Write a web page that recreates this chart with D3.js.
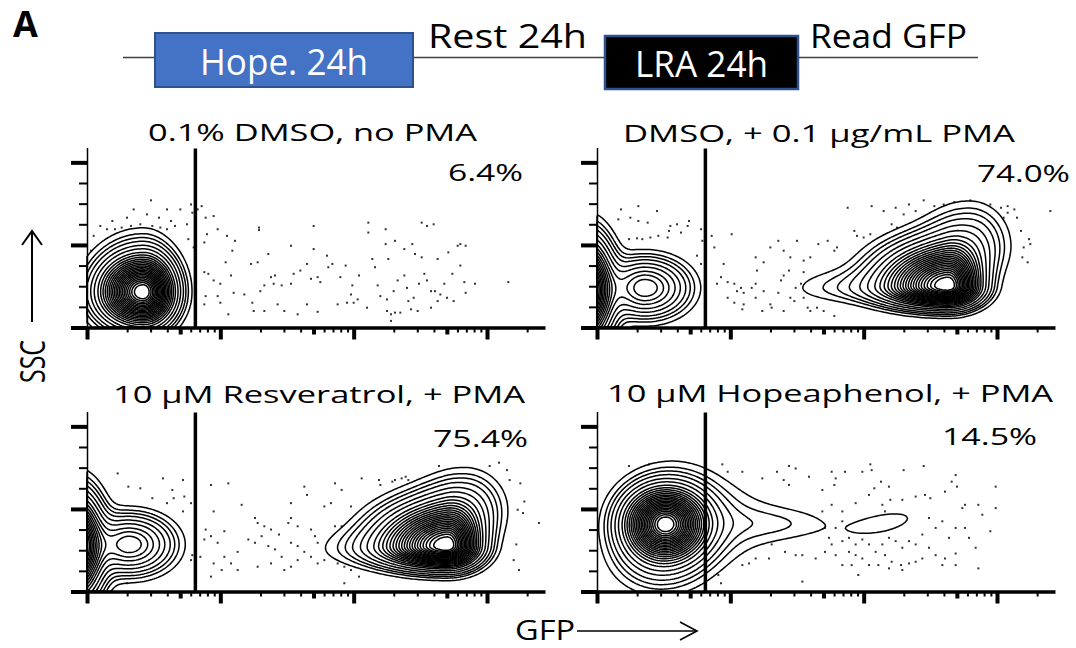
<!DOCTYPE html>
<html>
<head>
<meta charset="utf-8">
<script src="https://cdn.jsdelivr.net/npm/d3@7"></script>
<style>
  body { margin: 0; background: #fff; }
  svg { display: block; }
  text { font-family: "Open Sans", sans-serif; fill: #000; }
</style>
</head>
<body>
<div id="chart"></div>
<script>
// ---- data ----
var timelineBoxes = ["Hope. 24h", "LRA 24h"];
var timelineLabels = ["Rest 24h", "Read GFP"];

var titles = ["0.1% DMSO, no PMA", "DMSO, + 0.1 \u00b5g/mL PMA",
              "10 \u00b5M Resveratrol, + PMA", "10 \u00b5M Hopeaphenol, + PMA"];
var gfpPercent = ["6.4%", "74.0%", "75.4%", "14.5%"];
var gfpGate = 650;                 // GFP gate (linear units)
var ssTicks = [0, 25, 50, 75, 100, 125, 150, 175, 200];

// populations: [log10 GFP, SSC, sd log low, sd log high, sd SSC low, sd SSC high, weight, rho]
var popDmso = [
  [2.42, 42, 0.18, 0.13, 22, 24, 1.00],
  [2.42, 55, 0.20, 0.14, 30, 32, 0.15]
];
var popPma = [
  [1.90, 45, 0.12, 0.12, 35, 35, 0.90],
  [2.36, 48, 0.15, 0.18, 20, 20, 0.30],
  [4.63, 50, 0.28, 0.14, 14, 28, 1.00],
  [4.80, 100, 0.20, 0.16, 25, 28, 0.12],
  [3.90, 48, 0.30, 0.30, 12, 15, 0.04]
];
var popResv = [
  [1.90, 55, 0.12, 0.12, 35, 35, 0.90],
  [2.32, 57, 0.15, 0.18, 20, 20, 0.30],
  [4.70, 55, 0.28, 0.14, 15, 28, 1.00],
  [4.85, 100, 0.20, 0.16, 25, 26, 0.12],
  [4.20, 52, 0.30, 0.30, 14, 16, 0.04]
];
var popHope = [
  [2.51, 82, 0.17, 0.17, 24, 24, 1.00],
  [2.60, 85, 0.25, 0.25, 38, 38, 0.10],
  [2.45, 40, 0.20, 0.20, 25, 25, 0.08],
  [3.00, 84, 0.30, 0.30, 28, 28, 0.03],
  [3.40, 82, 0.30, 0.30, 14, 14, 0.03],
  [4.15, 83, 0.23, 0.23, 14, 14, 0.03, 0.5]
];

// outlier events: [log10 GFP, SSC]
var dotsDmso = [[2.48,154],[2.35,143],[2.60,143],[2.70,143],[2.78,149],[2.19,129],[2.30,133],[2.45,137],[2.54,133],[2.63,129],
  [2.10,123],[2.15,119],[2.21,119],[2.26,121],[2.33,123],[2.40,125],[2.49,123],[2.55,121],[2.60,119],[2.66,123],
  [2.75,125],[2.79,139],[2.83,143],[2.05,111],[2.31,113],[2.25,115],[2.43,117],[2.50,115],[2.03,93],[2.09,92],
  [2.76,107],[2.80,97],[2.86,147],[2.89,133],[2.95,135],[2.98,119],[2.90,113],[2.88,103],[3.05,111],[3.11,105],
  [3.29,121],[3.29,118],[3.53,99],[3.70,123],[3.36,89],[3.28,79],[3.23,77],[3.04,79],[3.09,93],[2.88,67],
  [2.91,65],[2.95,57],[3.00,53],[3.08,63],[3.10,42],[3.18,40],[3.24,30],[3.30,44],[3.38,61],[3.41,63],
  [3.33,51],[3.40,53],[3.46,51],[3.53,53],[3.55,65],[3.60,69],[3.65,77],[3.68,59],[3.70,95],[3.73,61],
  [3.75,55],[3.80,87],[3.81,73],[3.84,77],[3.90,61],[3.94,75],[3.98,40],[4.03,34],[4.04,63],[4.11,127],
  [4.11,115],[4.14,83],[4.16,73],[4.24,119],[4.24,101],[4.26,83],[4.31,105],[4.38,95],[4.44,101],[4.46,89],
  [4.51,127],[4.55,123],[4.60,125],[4.51,85],[4.63,83],[4.71,91],[4.78,99],[4.80,101],[4.84,99],[4.80,75],
  [4.74,65],[4.83,55],[4.91,53],[5.16,55],[4.84,42],[4.18,51],[4.20,38],[4.25,34],[4.30,44],[4.33,57],
  [4.38,63],[4.40,48],[4.41,32],[4.45,36],[4.49,53],[4.53,65],[4.55,57],[4.58,44],[4.61,44],[4.65,40],
  [4.68,53],[4.70,36],[4.75,32],[4.43,22],[4.35,18],[4.28,16],[4.31,18],[4.28,8],[4.10,24],[3.95,30],
  [4.00,30],[3.88,28],[3.48,20],[3.58,16],[3.73,19],[3.65,28],[3.43,28],[3.33,20],[3.25,20],[3.06,16],
  [3.00,30],[2.98,38],[2.89,38],[2.88,28],[4.25,20],[4.48,20],[4.58,24],[4.63,32],[3.99,51]];
var dotsPma = [[2.18,143],[2.31,147],[2.45,141],[2.25,133],[2.31,129],[2.16,131],[2.38,127],[2.55,123],[2.60,125],[2.69,129],
  [2.68,123],[2.54,117],[2.63,115],[2.53,109],[2.24,107],[2.30,108],[2.34,107],[2.40,109],[2.46,111],[2.78,119],
  [2.79,105],[2.75,87],[2.78,77],[2.60,20],[2.43,20],[2.75,53],[2.86,111],[3.01,113],[2.88,97],[2.95,77],
  [2.90,53],[2.93,61],[2.98,55],[3.03,53],[3.05,44],[3.08,48],[3.10,42],[3.16,48],[3.19,53],[2.98,36],
  [3.03,30],[3.10,28],[3.19,36],[3.25,44],[3.30,28],[3.31,24],[3.36,42],[3.38,57],[3.40,63],[3.44,69],
  [3.45,36],[3.48,32],[3.49,48],[3.53,53],[3.55,36],[3.58,24],[3.60,20],[3.65,24],[3.70,20],[3.78,14],
  [3.40,20],[3.19,85],[3.25,79],[3.30,97],[3.36,105],[3.40,93],[3.45,85],[3.50,105],[3.55,81],[3.60,85],
  [3.66,101],[3.73,105],[3.78,93],[3.80,97],[3.88,145],[3.93,117],[3.95,111],[4.00,109],[4.05,113],[4.06,147],
  [4.15,141],[4.21,125],[4.24,145],[4.25,121],[4.30,137],[4.34,149],[4.39,141],[4.45,154],[4.53,147],[4.60,149],
  [4.68,152],[4.80,154],[4.88,147],[4.95,149],[5.03,145],[5.08,147],[5.13,143],[5.05,133],[5.15,133],[5.18,117],
  [5.24,107],[5.20,97],[5.25,101],[5.19,85],[5.23,79],[5.40,141],[5.08,139],[4.99,141],[4.90,141],[3.24,20],
  [3.09,22],[3.55,67],[3.20,69]];
var dotsResv = [[2.23,143],[2.15,119],[2.31,127],[2.40,125],[2.57,137],[2.64,123],[2.72,135],[2.73,115],[2.49,113],[2.60,107],
  [2.65,113],[2.72,97],[2.78,107],[2.30,10],[2.40,12],[2.78,38],[2.79,44],[2.93,129],[3.06,131],[2.95,97],
  [2.89,75],[2.93,67],[2.88,63],[2.98,59],[3.03,73],[3.16,105],[3.26,89],[3.28,83],[3.33,79],[3.38,75],
  [3.44,69],[3.51,83],[3.53,89],[3.58,79],[3.63,127],[3.65,117],[3.53,107],[3.68,75],[3.71,67],[3.73,59],
  [3.78,103],[3.83,107],[3.86,131],[3.91,123],[3.98,103],[3.91,79],[3.86,79],[3.21,63],[3.26,59],[3.31,67],
  [3.36,55],[3.41,51],[3.46,42],[3.53,59],[3.58,55],[3.63,48],[3.68,42],[3.73,34],[3.78,38],[3.81,51],
  [3.86,42],[3.88,34],[3.93,30],[3.98,26],[4.04,18],[3.93,10],[3.08,34],[3.03,42],[3.13,26],[3.28,30],
  [3.38,34],[3.48,26],[3.53,30],[3.58,38],[2.93,18],[2.85,42],[2.95,34],[3.01,26],[3.13,48],[4.06,137],
  [4.19,135],[4.20,129],[4.29,133],[4.39,139],[4.41,135],[4.64,152],[4.79,149],[4.89,149],[5.02,152],[5.09,156],
  [5.15,147],[5.17,135],[5.25,131],[5.28,109],[5.23,99],[5.27,95],[5.39,83],[5.22,57],[5.20,38],[5.24,26],
  [4.31,135],[4.36,137]];
var dotsHope = [[2.24,152],[2.39,154],[2.94,154],[2.98,145],[3.09,145],[3.24,137],[3.35,145],[3.44,152],[3.49,149],[3.40,135],
  [3.44,129],[3.59,139],[3.69,123],[3.76,145],[3.79,137],[3.78,129],[3.86,145],[3.99,145],[4.05,154],[4.06,147],
  [4.13,133],[4.08,125],[4.19,127],[4.30,147],[4.45,152],[4.69,141],[4.66,133],[4.70,127],[4.61,121],[4.46,117],
  [4.50,113],[4.39,115],[4.29,111],[4.20,111],[4.14,105],[4.04,117],[3.94,107],[3.84,97],[3.76,105],[3.69,97],
  [3.84,85],[3.79,77],[3.71,77],[3.74,65],[3.76,57],[3.71,48],[3.79,44],[3.84,61],[3.89,48],[3.89,65],
  [3.94,57],[3.99,63],[4.04,57],[4.09,48],[4.14,57],[4.19,65],[4.24,61],[4.29,53],[4.34,61],[4.39,57],
  [4.44,69],[4.49,89],[4.54,77],[4.59,85],[4.64,65],[4.69,77],[4.74,101],[4.76,77],[4.79,65],[4.84,53],
  [4.86,105],[4.89,93],[4.69,46],[4.61,40],[4.54,44],[4.49,53],[4.44,40],[4.39,36],[4.34,34],[4.28,32],
  [4.21,36],[4.16,44],[4.11,32],[4.04,32],[3.99,40],[3.94,44],[3.91,32],[3.84,32],[3.64,40],[3.54,44],
  [3.49,44],[3.41,48],[3.31,57],[3.24,59],[3.29,40],[3.19,40],[3.14,34],[3.09,32],[3.04,44],[3.54,12],
  [3.96,20],[4.19,28],[4.29,26],[4.59,32],[4.69,32],[4.86,28],[4.95,73],[4.99,127],[4.99,101],[4.76,105],
  [2.91,20],[2.93,10],[4.16,97],[4.29,85]];

var populations = [popDmso, popPma, popResv, popHope];
var outliers = [dotsDmso, dotsPma, dotsResv, dotsHope];

// ---- layout ----
var W = 1076, H = 648;
var plotW = 458, plotH = 180;
var origins = [[87, 327.5], [597, 327.5], [87, 591.5], [597, 591.5]];   // x-axis left end / baseline
var titleBox = [[148, 477, 141], [623, 1015, 142], [113, 525, 403], [607, 1053, 402]];
var pctBox = [[448, 523, 181], [977, 1070, 182], [433, 528, 447], [942, 1037, 445]];
// contour levels as fractions of the panel's peak density (outer one = outlier cut)
var levelFractions = [0.02, 0.035, 0.05, 0.07, 0.1, 0.135].concat(d3.range(0, 20).map(function(t) { return 0.18 + t * 0.04; }));

var svg = d3.select("#chart").append("svg")
    .attr("width", W).attr("height", H);

// header: label and timeline
svg.append("text").attr("x", 13).attr("y", 37)
    .style("font-size", "36px").style("font-weight", "bold")
    .text("A");

svg.append("line").attr("x1", 123).attr("x2", 978).attr("y1", 57.5).attr("y2", 57.5)
    .attr("stroke", "#404040").attr("stroke-width", 1.6);

svg.append("rect").attr("x", 155).attr("y", 33).attr("width", 258).attr("height", 54)
    .attr("fill", "#4472c4").attr("stroke", "#2f528f").attr("stroke-width", 2);
svg.append("rect").attr("x", 605).attr("y", 36).attr("width", 193).attr("height", 53)
    .attr("fill", "#000").attr("stroke", "#2f528f").attr("stroke-width", 2.5);

svg.append("text").attr("x", 200).attr("y", 75).style("font-size", "36px").style("fill", "#fff")
    .attr("textLength", 168).attr("lengthAdjust", "spacingAndGlyphs").text(timelineBoxes[0]);
svg.append("text").attr("x", 635).attr("y", 77).style("font-size", "37px").style("fill", "#fff")
    .attr("textLength", 133).attr("lengthAdjust", "spacingAndGlyphs").text(timelineBoxes[1]);
svg.append("text").attr("x", 428).attr("y", 48).style("font-size", "32px")
    .attr("textLength", 159).attr("lengthAdjust", "spacingAndGlyphs").text(timelineLabels[0]);
svg.append("text").attr("x", 810).attr("y", 48).style("font-size", "32px")
    .attr("textLength", 157).attr("lengthAdjust", "spacingAndGlyphs").text(timelineLabels[1]);

// density of one panel's populations at (log10 GFP, SSC)
function density(pop, L, S) {
  var sum = 0;
  pop.forEach(function(p) {
    var dx = (L - p[0]) / (L < p[0] ? p[2] : p[3]);
    var dy = (S - p[1]) / (S < p[1] ? p[4] : p[5]);
    var r = p[7] || 0;
    var q = (dx * dx - 2 * r * dx * dy + dy * dy) / (1 - r * r);
    sum += p[6] * Math.exp(-q / 2);
  });
  return sum;
}

origins.forEach(function(o, k) {
  var x0 = o[0], yb = o[1], yt = yb - plotH;

  var x = d3.scaleLog().domain([100, Math.pow(10, 5.435)]).range([x0, x0 + plotW]);
  var y = d3.scaleLinear().domain([0, 218]).range([yb, yt]);

  var g = svg.append("g");
  var pop = populations[k];

  // density grid over the plot area
  var c = 2, nx = Math.ceil(plotW / c), ny = Math.ceil(plotH / c);
  var vals = new Float64Array(nx * ny);
  for (var j = 0; j < ny; j++) {
    var S = y.invert(yt + (j + 0.5) * c);
    for (var i = 0; i < nx; i++) {
      var L = Math.log10(x.invert(x0 + (i + 0.5) * c));
      vals[j * nx + i] = density(pop, L, S);
    }
  }
  var m = d3.max(vals);
  var levels = levelFractions.map(function(f) { return f * m; });

  // outlier dots, only outside the outer contour
  g.append("g").selectAll("rect")
    .data(outliers[k].filter(function(d) { return density(pop, d[0], d[1]) < levels[0]; }))
    .enter().append("rect")
      .attr("x", function(d) { return x(Math.pow(10, d[0])) - 1; })
      .attr("y", function(d) { return y(d[1]) - 1; })
      .attr("width", 2).attr("height", 2)
      .attr("fill", "#333");

  var contours = d3.contours().size([nx, ny]).thresholds(levels)(vals);
  g.append("g").selectAll("path")
    .data(contours)
    .enter().append("path")
      .attr("d", d3.geoPath(d3.geoIdentity().scale(c).translate([x0, yt])))
      .attr("fill", "none")
      .attr("stroke", "#000")
      .attr("stroke-width", 1.5)
      .attr("stroke-linejoin", "round");

  // gate
  g.append("line")
    .attr("x1", x(gfpGate)).attr("x2", x(gfpGate))
    .attr("y1", yt + 1).attr("y2", yb)
    .attr("stroke", "#000").attr("stroke-width", 3.5);

  // x axis (log, biexp-style ticks)
  var digit = function(v) { return Math.round(v / Math.pow(10, Math.floor(Math.log10(v) + 1e-9))); };
  var xa = g.append("g").attr("transform", "translate(0," + yb + ")")
    .call(d3.axisBottom(x).tickValues(x.ticks()).tickFormat("").tickSizeOuter(0));
  xa.select(".domain").attr("stroke-width", 3.5);
  xa.selectAll(".tick line")
    .attr("y2", function(d) { var n = digit(d); return n === 1 ? 12 : n === 5 ? 7 : 5; })
    .attr("stroke-width", function(d) { var n = digit(d); return n === 1 ? 4 : n === 5 ? 4 : 2; });

  // y axis
  var ya = g.append("g").attr("transform", "translate(" + x0 + ",0)")
    .call(d3.axisLeft(y).tickValues(ssTicks).tickFormat("").tickSizeOuter(0));
  ya.select(".domain").attr("stroke-width", 1.5);
  ya.selectAll(".tick line")
    .attr("x2", function(d) { return d % 100 === 0 ? -16 : -8; })
    .attr("stroke-width", function(d) { return d % 100 === 0 ? 4 : 2; });

  // title and percentage
  var tb = titleBox[k], pb = pctBox[k];
  svg.append("text").attr("x", tb[0]).attr("y", tb[2])
    .style("font-size", "23.5px")
    .attr("textLength", tb[1] - tb[0]).attr("lengthAdjust", "spacingAndGlyphs")
    .text(titles[k]);
  svg.append("text").attr("x", pb[0]).attr("y", pb[2])
    .style("font-size", "24.5px")
    .attr("textLength", pb[1] - pb[0]).attr("lengthAdjust", "spacingAndGlyphs")
    .text(gfpPercent[k]);
});

// axis labels with arrows
svg.append("text").attr("transform", "translate(45,383) rotate(-90)")
    .style("font-size", "35px")
    .attr("textLength", 43).attr("lengthAdjust", "spacingAndGlyphs")
    .text("SSC");
svg.append("line").attr("x1", 32).attr("x2", 32).attr("y1", 322).attr("y2", 231)
    .attr("stroke", "#000").attr("stroke-width", 2);
svg.append("polyline").attr("points", "22,245 32,231 42,245")
    .attr("fill", "none").attr("stroke", "#000").attr("stroke-width", 2);

svg.append("text").attr("x", 515).attr("y", 640)
    .style("font-size", "27px")
    .attr("textLength", 60).attr("lengthAdjust", "spacingAndGlyphs")
    .text("GFP");
svg.append("line").attr("x1", 577).attr("x2", 697).attr("y1", 631).attr("y2", 631)
    .attr("stroke", "#000").attr("stroke-width", 1.6);
svg.append("polyline").attr("points", "680,622 697,631 680,640")
    .attr("fill", "none").attr("stroke", "#000").attr("stroke-width", 1.6);
</script>
</body>
</html>
